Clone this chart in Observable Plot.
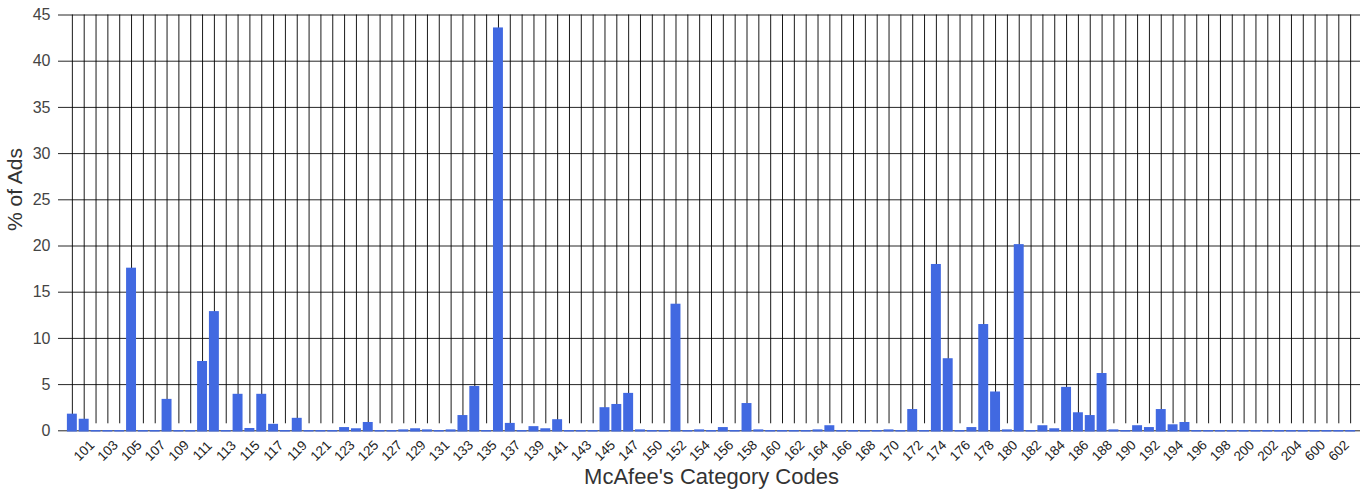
<!DOCTYPE html>
<html>
<head>
<meta charset="utf-8">
<script src="https://cdn.jsdelivr.net/npm/d3@7"></script>
<script src="https://cdn.jsdelivr.net/npm/@observablehq/plot@0.6"></script>
<style>
  html, body { margin: 0; padding: 0; background: #fff; }
</style>
</head>
<body>
<div id="chart"></div>
<script>
const categories = [
  "100","101","102","103","104","105","106","107","108","109",
  "110","111","112","113","114","115","116","117","118","119",
  "120","121","122","123","124","125","126","127","128","129",
  "130","131","132","133","134","135","136","137","138","139",
  "140","141","142","143","144","145","146","147","148",
  "150","151","152","153","154","155","156","157","158","159",
  "160","161","162","163","164","165","166","167","168","169",
  "170","171","172","173","174","175","176","177","178","179",
  "180","181","182","183","184","185","186","187","188","189",
  "190","191","192","193","194","195","196","197","198","199",
  "200","201","202","203","204","205","600","601","602","603"
];
const values = [
  1.8, 1.25, 0, 0, 0, 17.6, 0, 0, 3.4, 0,
  0, 7.5, 12.9, 0, 3.95, 0.25, 3.95, 0.7, 0, 1.35,
  0, 0, 0, 0.35, 0.22, 0.9, 0, 0, 0.1, 0.22,
  0.1, 0, 0.1, 1.65, 4.8, 0, 43.6, 0.8, 0, 0.45,
  0.22, 1.2, 0, 0, 0, 2.5, 2.85, 4.05, 0.1,
  0, 0, 13.7, 0, 0.1, 0, 0.35, 0, 2.95, 0.1,
  0, 0, 0, 0, 0.1, 0.55, 0, 0, 0, 0,
  0.1, 0, 2.3, 0, 18.0, 7.8, 0, 0.35, 11.5, 4.2,
  0.1, 20.15, 0, 0.55, 0.22, 4.7, 1.95, 1.65, 6.2, 0.1,
  0, 0.55, 0.35, 2.3, 0.65, 0.9, 0, 0, 0, 0,
  0, 0, 0, 0, 0, 0, 0, 0, 0, 0
];
const tickLabels = [
  "101","103","105","107","109","111","113","115","117","119",
  "121","123","125","127","129","131","133","135","137","139",
  "141","143","145","147","150","152","154","156","158","160",
  "162","164","166","168","170","172","174","176","178","180",
  "182","184","186","188","190","192","194","196","198","200",
  "202","204","600","602"
];
const yTicks = [0, 5, 10, 15, 20, 25, 30, 35, 40, 45];

const data = categories.map((c, i) => ({code: c, pct: values[i]}));
const blue = "#4169e1";

const chart = Plot.plot({
  width: 1366,
  height: 491,
  marginLeft: 65,
  marginRight: 9,
  marginTop: 14.5,
  marginBottom: 60.7,
  x: {type: "band", domain: categories, padding: 0.16, axis: null},
  y: {domain: [0, 45], axis: null},
  style: {fontFamily: "'Liberation Sans', Arial, sans-serif", background: "#fff"},
  marks: [
    Plot.ruleX(categories, {x: d => d, y1: 0, y2: 45, insetTop: -7, stroke: "#000", strokeOpacity: 0.9}),
    Plot.ruleY(yTicks, {y: d => d, insetLeft: -7, insetRight: -3, stroke: "#000", strokeOpacity: 0.85}),
    Plot.barY(data, {x: "code", y: "pct", fill: blue}),
    Plot.tickY(data, {x: "code", y: 0, stroke: blue, strokeWidth: 1.5}),
    Plot.text(yTicks, {y: d => d, frameAnchor: "left", dx: -15, textAnchor: "end", lineAnchor: "middle", text: d => String(d), fontSize: 16, fill: "#444"}),
    Plot.text(tickLabels, {x: d => d, frameAnchor: "bottom", lineAnchor: "middle", dy: 20, rotate: -45, textAnchor: "middle", fontSize: 13.5, fill: "#222"}),
    Plot.text(["McAfee's Category Codes"], {frameAnchor: "bottom", lineAnchor: "middle", dy: 46, fontSize: 22, fill: "#333"}),
    Plot.text(["% of Ads"], {frameAnchor: "left", lineAnchor: "middle", dx: -50, dy: 8, rotate: -90, fontSize: 21, fill: "#333"})
  ]
});
document.getElementById("chart").appendChild(chart);
</script>
</body>
</html>
